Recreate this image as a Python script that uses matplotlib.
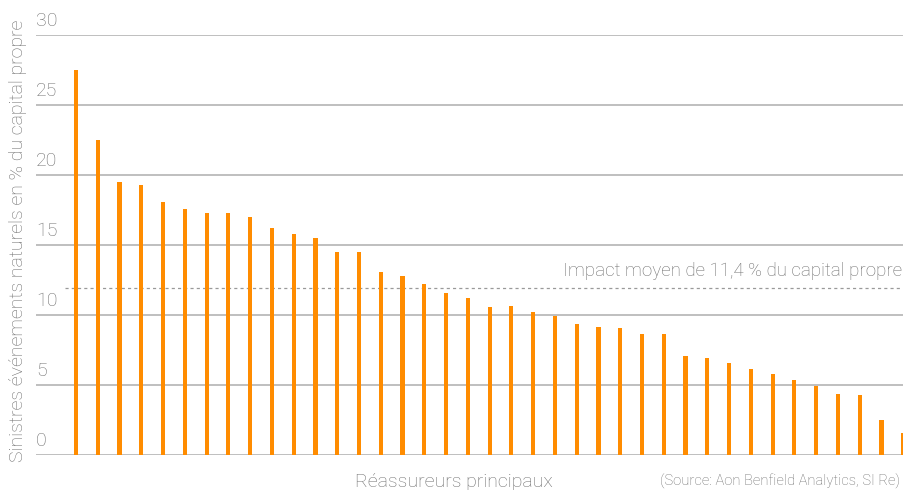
#!/usr/bin/env python3
"""Natural catastrophe losses as % of equity, top reinsurers (bar chart)."""

import matplotlib
matplotlib.use("Agg")
import matplotlib.pyplot as plt
from matplotlib import transforms

# values, one per reinsurer, sorted descending
losses = [27.5, 22.5, 19.5, 19.3, 18.1, 17.6, 17.3, 17.3, 17.0, 16.2,
          15.8, 15.5, 14.5, 14.5, 13.1, 12.8, 12.2, 11.6, 11.2, 10.6,
          10.65, 10.2, 9.95, 9.4, 9.15, 9.1, 8.65, 8.65, 7.1, 6.95,
          6.6, 6.15, 5.8, 5.4, 4.95, 4.4, 4.3, 2.55, 1.6]
y_ticks = [0, 5, 10, 15, 20, 25, 30]
avg_line = 11.9   # where the dashed line sits in the picture
avg_label = "Impact moyen de 11,4 % du capital propre"
y_label = "Sinistres événements naturels en % du capital propre"
x_label = "Réassureurs principaux"
source = "(Source: Aon Benfield Analytics, SI Re)"

ORANGE = "#ff8c00"
GRID = "#b4b4b4"
TEXT = "#6e6e6e"

plt.rcParams["font.family"] = ["Roboto", "DejaVu Sans"]
plt.rcParams["font.weight"] = "light"

W, H = 904, 490
fig = plt.figure(figsize=(W / 100, H / 100), dpi=100)
# axes from x=36 to the right edge, y=0 at px 455, y=30 at px 35
ax = fig.add_axes([36 / W, (H - 455.3) / H, (W - 36) / W, 420.6 / H])

xs = list(range(len(losses)))
ax.bar(xs, losses, width=0.19, color=ORANGE, zorder=3)

step = 21.77
ax.set_xlim(-(76 - 36) / step, (W - 76) / step)
ax.set_ylim(0, 30)

for v in y_ticks:
    ax.axhline(v, color=GRID, lw=1.2, zorder=1)
    ax.annotate(str(v), xy=(0, v), xycoords=("axes fraction", "data"),
                xytext=(0, 3.5), textcoords="offset points",
                ha="left", va="bottom", fontsize=14, color=TEXT)

# dashed average line, starts a little right of the axis
dash_tr = transforms.blended_transform_factory(fig.transFigure, ax.transData)
ax.plot([65 / W, 1.0], [avg_line, avg_line], transform=dash_tr,
        color="#999999", lw=0.9, ls=(0, (2.5, 2.5)), zorder=2, clip_on=False)
ax.text(563 / W, 1 - 271 / H, avg_label, transform=fig.transFigure,
        ha="left", va="center", fontsize=13.5, color=TEXT)

for s in ax.spines.values():
    s.set_visible(False)
ax.set_xticks([])
ax.set_yticks([])

fig.text(18 / W, 1 - 241 / H, y_label, rotation=90, ha="center", va="center",
         fontsize=14, color=TEXT)
fig.text(454 / W, 1 - 482 / H, x_label, ha="center", va="center",
         fontsize=14, color=TEXT)
fig.text(900 / W, 1 - 481 / H, source, ha="right", va="center",
         fontsize=10.6, color=TEXT)

fig.savefig("out.png", dpi=100)
